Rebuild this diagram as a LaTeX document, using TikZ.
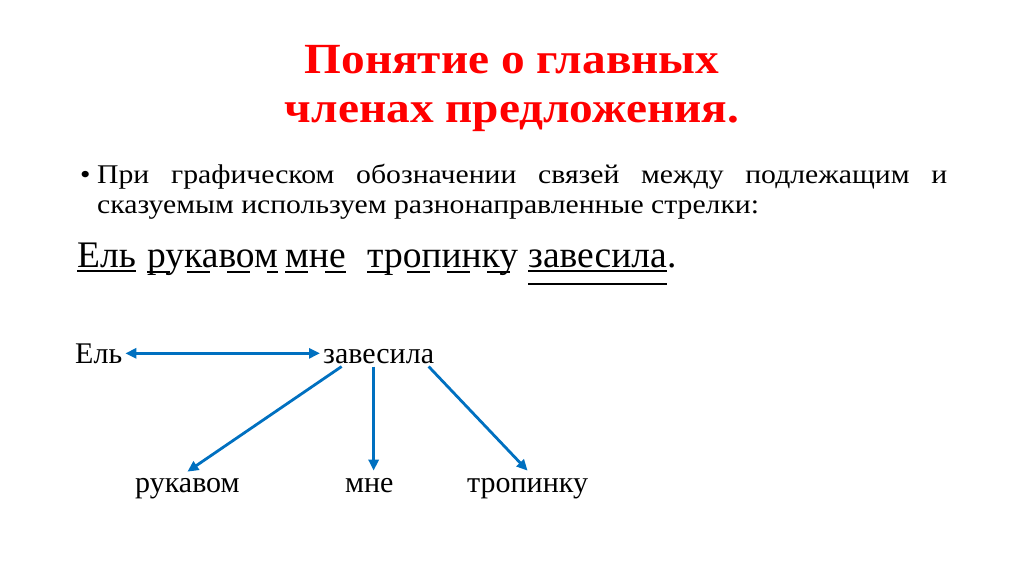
\documentclass[tikz,border=0pt]{standalone}
\usepackage{fontspec}
\setmainfont{Liberation Serif}
\newfontfamily\widefont[FakeStretch=1.1]{Liberation Serif}
\usetikzlibrary{arrows.meta}
\definecolor{titlered}{RGB}{255,0,0}
\definecolor{linkblue}{RGB}{0,112,192}
\tikzset{head/.tip={Triangle[length=11pt,width=10pt]}}
\begin{document}
\begin{tikzpicture}
  [x=1pt,y=-1pt,
   every node/.style={inner sep=0pt},
   title/.style={anchor=base,text=titlered,font=\fontsize{43}{50}\widefont\bfseries},
   textline/.style={anchor=base west,font=\fontsize{27}{32}\widefont},
   word/.style={anchor=base west,font=\fontsize{37.5}{45}\selectfont},
   term/.style={anchor=base west,inner sep=3pt,font=\fontsize{30}{36}\selectfont},
   subj/.style={line width=2.2pt},
   obj/.style={line width=2.2pt,dash pattern=on 23pt off 17pt},
   link/.style={linkblue,line width=2.8pt,-head}]
  \useasboundingbox (0,0) rectangle (1024,574);
  % title
  \node[title] (t1) at (512,73) {Понятие о главных};
  \node[title] (t2) at (512,122) {членах предложения.};
  % bullet
  \node[textline] (bul) at (80,183) {•};
  \node[textline] (l1) at (97,183) {\makebox[850pt][s]{При графическом обозначении связей между подлежащим и}};
  \node[textline] (l2) at (97,213) {сказуемым используем разнонаправленные стрелки:};
  % sentence
  \node[word] (w1) at (77,267) {Ель};
  \node[word] (w2) at (147,267) {рукавом};
  \node[word] (w3) at (285,267) {мне};
  \node[word] (w4) at (367,267) {тропинку};
  \node[word] (w5) at (528,267) {завесила};
  \node[word] (dot) at (w5.base east) {.};
  \draw[subj] ([yshift=-4pt]w1.base west) -- ([yshift=-4pt]w1.base east);
  \foreach \w in {w2,w3,w4}
    \draw[obj] ([yshift=-5pt]\w.base west) -- ([yshift=-5pt]\w.base east);
  \draw[subj] ([yshift=-4pt]w5.base west) -- ([yshift=-4pt]w5.base east);
  \draw[subj] ([yshift=-17pt]w5.base west) -- ([yshift=-17pt]w5.base east);
  % scheme
  \node[term] (el) at (72,363) {Ель};
  \node[term] (zav) at (320,363) {завесила};
  \node[term] (ruk) at (132,492) {рукавом};
  \node[term] (mne) at (342,492) {мне};
  \node[term] (trop) at (464,492) {тропинку};
  \draw[link,head-head] (el.east) -- (el.east -| zav.west);
  \draw[link] ([xshift=-37pt]zav.south) -- ([yshift=3pt]ruk.north);
  \draw[link] ([xshift=-5pt]zav.south) -- ([xshift=-5pt,yshift=4pt]zav.south |- mne.north);
  \draw[link] ([xshift=50pt]zav.south) -- ([yshift=4pt]trop.north);
\end{tikzpicture}
\end{document}
